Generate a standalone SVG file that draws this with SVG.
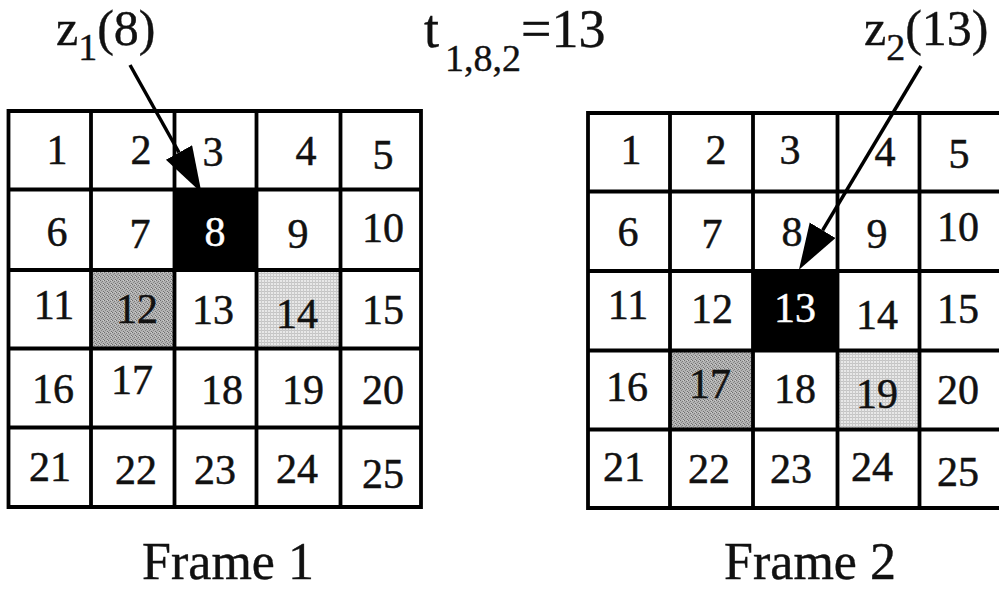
<svg xmlns="http://www.w3.org/2000/svg" width="999" height="593" viewBox="0 0 999 593">
  <style>
    .grid { fill: none; stroke: #000; stroke-width: 3.8; stroke-linecap: square; }
    .num { font-family: "Liberation Serif", "Times New Roman", serif; font-size: 42px; fill: #111; stroke: #111; stroke-width: 0.5; text-anchor: middle; }
    .inv { fill: #fff; stroke: #fff; }
    .lbl { font-family: "Liberation Serif", "Times New Roman", serif; font-size: 50px; fill: #111; stroke: #111; stroke-width: 0.4; }
    .big { font-size: 54px; }
    .sub { font-size: 38px; }
    .cap { font-family: "Liberation Serif", "Times New Roman", serif; font-size: 52px; fill: #111; stroke: #111; stroke-width: 0.4; text-anchor: middle; }
    .arrow { stroke: #000; stroke-width: 3.5; fill: none; marker-end: url(#head); }
  </style>
  <defs>
    <marker id="head" markerUnits="userSpaceOnUse" markerWidth="48" markerHeight="32" refX="0" refY="15" orient="auto">
      <path d="M0,0 L46,15 L0,30 Z" fill="#000"/>
    </marker>
    <!-- halftone textures for the shaded cells -->
    <pattern id="darkDots" width="4" height="4" patternUnits="userSpaceOnUse">
      <rect width="4" height="4" fill="#b4b4b4"/>
      <rect x="0" y="0" width="1" height="1" fill="#6e6e6e"/>
      <rect x="2" y="1" width="1" height="1" fill="#7a7a7a"/>
      <rect x="1" y="2" width="1" height="1" fill="#888"/>
      <rect x="3" y="3" width="1" height="1" fill="#707070"/>
      <rect x="3" y="0" width="1" height="1" fill="#d0d0d0"/>
    </pattern>
    <pattern id="lightDots" width="3" height="3" patternUnits="userSpaceOnUse">
      <rect width="3" height="3" fill="#e8e8e8"/>
      <rect x="0" y="0" width="3" height="1" fill="#c4c4c4"/>
      <rect x="0" y="0" width="1" height="3" fill="#cacaca"/>
    </pattern>
  </defs>

  <!-- Frame 1 -->
  <g id="frame1">
    <rect x="174.5" y="189.5" width="82" height="80.5" fill="#000"/>
    <rect x="91" y="270" width="83.5" height="78.5" fill="url(#darkDots)"/>
    <rect x="256.5" y="270" width="84" height="78.5" fill="url(#lightDots)"/>
    <path class="grid" d="M8.5,111 H421 M8.5,189.5 H421 M8.5,270 H421 M8.5,348.5 H421 M8.5,427.5 H421 M8.5,507 H421
                         M8.5,111 V507 M91,111 V507 M174.5,111 V507 M256.5,111 V507 M340.5,111 V507 M421,111 V507"/>
    <text class="num" x="57" y="164">1</text>
    <text class="num" x="141" y="164">2</text>
    <text class="num" x="213" y="166">3</text>
    <text class="num" x="306" y="165">4</text>
    <text class="num" x="383" y="169">5</text>
    <text class="num" x="57" y="246">6</text>
    <text class="num" x="140" y="248">7</text>
    <text class="num inv" x="215" y="246">8</text>
    <text class="num" x="298" y="248">9</text>
    <text class="num" x="383" y="242">10</text>
    <text class="num" x="54" y="319">11</text>
    <text class="num" x="137" y="323">12</text>
    <text class="num" x="213" y="324">13</text>
    <text class="num" x="297" y="328">14</text>
    <text class="num" x="383" y="324">15</text>
    <text class="num" x="53" y="403">16</text>
    <text class="num" x="132" y="394">17</text>
    <text class="num" x="222" y="404">18</text>
    <text class="num" x="303" y="404">19</text>
    <text class="num" x="383" y="404">20</text>
    <text class="num" x="50" y="481">21</text>
    <text class="num" x="136" y="484">22</text>
    <text class="num" x="215" y="484">23</text>
    <text class="num" x="297" y="483">24</text>
    <text class="num" x="383" y="488">25</text>
    <text class="cap" x="228" y="579">Frame 1</text>
  </g>

  <!-- Frame 2 -->
  <g id="frame2">
    <rect x="753" y="271" width="84.5" height="79.5" fill="#000"/>
    <rect x="670" y="350.5" width="83" height="79" fill="url(#darkDots)"/>
    <rect x="837.5" y="350.5" width="82" height="79" fill="url(#lightDots)"/>
    <path class="grid" d="M588,113 H1001 M588,191.5 H1001 M588,271 H1001 M588,350.5 H1001 M588,429.5 H1001 M588,508 H1001
                         M588,113 V508 M670,113 V508 M753,113 V508 M837.5,113 V508 M919.5,113 V508 M1001,113 V508"/>
    <text class="num" x="631" y="164">1</text>
    <text class="num" x="716" y="164">2</text>
    <text class="num" x="790" y="164">3</text>
    <text class="num" x="885" y="166">4</text>
    <text class="num" x="959" y="168">5</text>
    <text class="num" x="628" y="246">6</text>
    <text class="num" x="712" y="248">7</text>
    <text class="num" x="792" y="246">8</text>
    <text class="num" x="877" y="248">9</text>
    <text class="num" x="958" y="241">10</text>
    <text class="num" x="628" y="319">11</text>
    <text class="num" x="712" y="323">12</text>
    <text class="num inv" x="795" y="322">13</text>
    <text class="num" x="877" y="329">14</text>
    <text class="num" x="958" y="323">15</text>
    <text class="num" x="627" y="401">16</text>
    <text class="num" x="710" y="398">17</text>
    <text class="num" x="795" y="403">18</text>
    <text class="num" x="877" y="408">19</text>
    <text class="num" x="958" y="404">20</text>
    <text class="num" x="624" y="481">21</text>
    <text class="num" x="709" y="483">22</text>
    <text class="num" x="791" y="483">23</text>
    <text class="num" x="872" y="481">24</text>
    <text class="num" x="958" y="486">25</text>
    <text class="cap" x="810" y="579">Frame 2</text>
  </g>

  <!-- Labels -->
  <g id="label-z1">
    <text class="lbl" x="56" y="45">z<tspan class="sub" dy="15">1</tspan><tspan dy="-15">(8)</tspan></text>
  </g>
  <g id="label-t">
    <text class="lbl big" x="424" y="47">t<tspan class="sub" dx="6" dy="24">1,8,2</tspan><tspan dy="-24">=13</tspan></text>
  </g>
  <g id="label-z2">
    <text class="lbl" x="864" y="45">z<tspan class="sub" dy="15">2</tspan><tspan dy="-15">(13)</tspan></text>
  </g>

  <!-- Connectors -->
  <g id="connectors">
    <line class="arrow" x1="130" y1="65" x2="179" y2="152.5"/>
    <line class="arrow" x1="921" y1="66" x2="822.6" y2="230.3"/>
  </g>
</svg>
